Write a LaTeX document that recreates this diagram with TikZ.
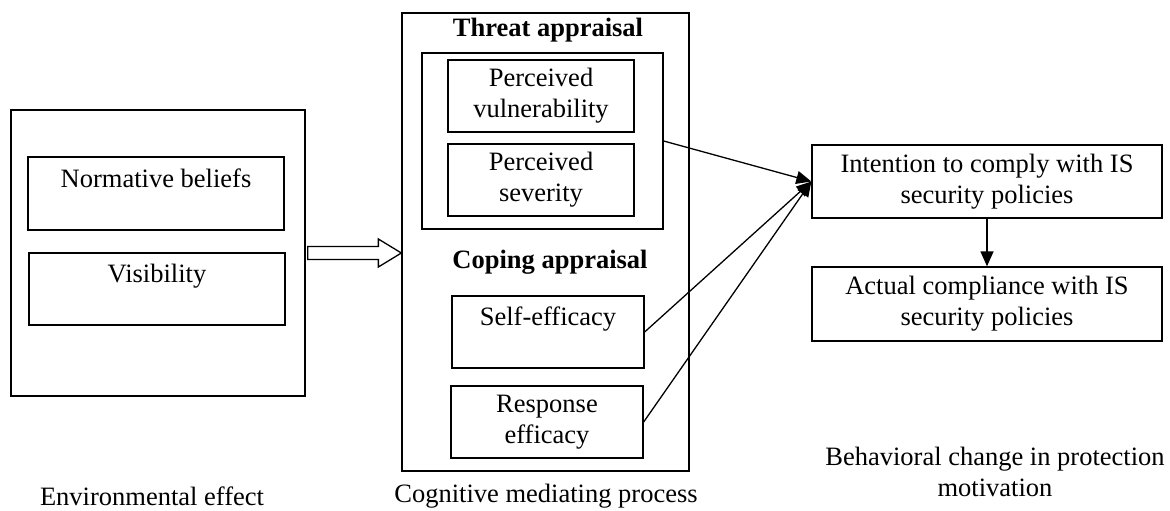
\documentclass[tikz,border=0pt]{standalone}
\usepackage{fontspec}
\setmainfont{Liberation Serif}
\usetikzlibrary{arrows.meta, calc}

\tikzset{
    box/.style={draw, line width=1.3pt, align=center, inner sep=0pt},
    title/.style={font=\fontsize{26.5}{31}\selectfont\bfseries, align=center},
    caption/.style={align=center},
    link/.style={line width=1.3pt, -{Triangle[length=15pt,width=13pt]}}
}

\begin{document}
\begin{tikzpicture}[x=1pt, y=-1pt, font=\fontsize{26.5}{31}\selectfont]
    \useasboundingbox (0,0) rectangle (1170,511);
    % environmental effect
    \node[box, minimum width=294pt, minimum height=286pt] (env) at (158,253) {};
    \node[box, minimum width=256pt, minimum height=73pt] (norm) at (156,193.5) {Normative beliefs\\\mbox{}};
    \node[box, minimum width=256pt, minimum height=72pt] (vis) at (157,289) {Visibility\\\mbox{}};
    % cognitive mediating process
    \node[box, minimum width=287pt, minimum height=458pt] (cog) at (545.5,242) {};
    \node[title] (threattitle) at (548,30) {Threat appraisal};
    \node[box, minimum width=241pt, minimum height=176pt] (threat) at (542.5,141) {};
    \node[box, minimum width=186pt, minimum height=72pt] (vul) at (541,96) {Perceived\\vulnerability};
    \node[box, minimum width=186pt, minimum height=72pt] (sev) at (541,180) {Perceived\\severity};
    \node[title] (copingtitle) at (550,262) {Coping appraisal};
    \node[box, minimum width=192pt, minimum height=72pt] (selfeff) at (548,332) {Self-efficacy\\\mbox{}};
    \node[box, minimum width=192pt, minimum height=72pt] (resp) at (547,422) {Response\\efficacy};
    % behavioral change
    \node[box, minimum width=350pt, minimum height=73pt] (intent) at (987,181.5) {Intention to comply with IS\\security policies};
    \node[box, minimum width=350pt, minimum height=74pt] (actual) at (987,304) {Actual compliance with IS\\security policies};
    % captions
    \node[caption] (envlabel) at (152,496) {Environmental effect};
    \node[caption] (coglabel) at (546,496) {Cognitive mediating process};
    \node[caption] (behlabel) at (995,472) {Behavioral change in protection\\motivation};

    % hollow arrow
    \coordinate (ha) at ($(env.east)+(2,0)$);
    \coordinate (hb) at (cog.west |- env.east);
    \draw[line width=1.3pt] ($(ha)+(0,-6.5)$) -- ($(hb)+(-23,-6.5)$) -- ($(hb)+(-23,-14)$)
        -- (hb) -- ($(hb)+(-23,14)$) -- ($(hb)+(-23,6.5)$) -- ($(ha)+(0,6.5)$) -- cycle;

    % links
    \draw[link] (threat.east) -- (intent.west);
    \draw[link] (selfeff.east) -- (intent.west);
    \draw[link] (resp.east) -- (intent.west);
    \draw[link] (intent.south) -- (actual.north);
\end{tikzpicture}
\end{document}
